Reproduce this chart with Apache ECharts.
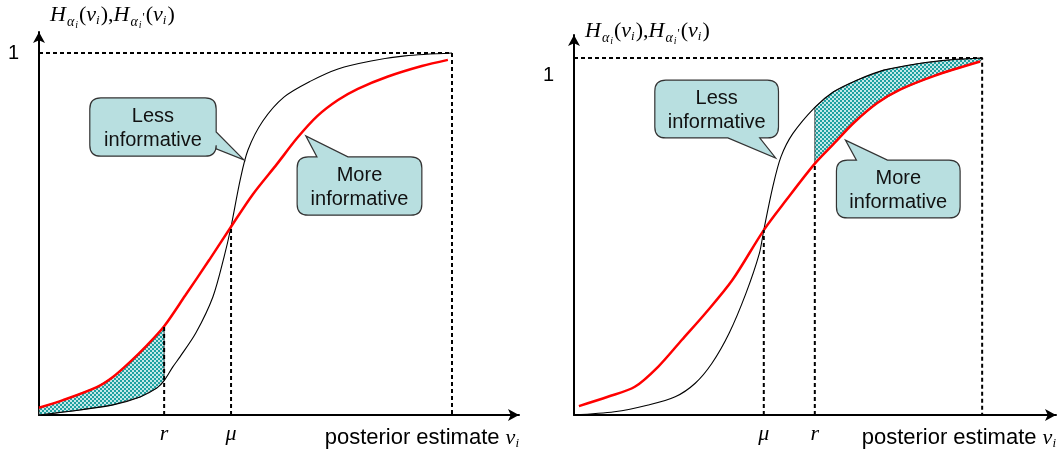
<!DOCTYPE html>
<html><head><meta charset="utf-8">
<script src="https://cdn.jsdelivr.net/npm/echarts@6/dist/echarts.min.js"></script>
<style>html,body{margin:0;padding:0;background:#fff}#c{width:1060px;height:451px}</style>
</head><body><div id="c"></div>
<script>
// ---- data (normalised posterior estimate / CDF value) ----
const leftBlackX = [0,0.099,0.179,0.245,0.286,0.303,0.324,0.341,0.380,0.421,0.448,0.465,0.487,0.506,0.542,0.593,0.659,0.724,0.804,0.886,1];
const leftBlackY = [0,0.014,0.028,0.050,0.075,0.095,0.133,0.160,0.227,0.326,0.436,0.520,0.649,0.732,0.812,0.878,0.923,0.956,0.978,0.992,1];
const leftRedX = [0,0.058,0.140,0.179,0.220,0.262,0.303,0.354,0.412,0.465,0.518,0.576,0.625,0.673,0.724,0.772,0.845,0.927,0.990];
const leftRedY = [0.020,0.041,0.077,0.105,0.146,0.193,0.245,0.330,0.428,0.520,0.610,0.693,0.765,0.825,0.870,0.901,0.935,0.964,0.981];
const rightBlackX = [0,0.099,0.182,0.248,0.297,0.338,0.380,0.421,0.454,0.465,0.487,0.507,0.536,0.590,0.635,0.693,0.759,0.842,0.924,1];
const rightBlackY = [0,0.009,0.028,0.051,0.089,0.145,0.229,0.340,0.452,0.518,0.639,0.723,0.788,0.862,0.905,0.938,0.966,0.984,0.995,1];
const rightRedX = [0.012,0.083,0.149,0.206,0.264,0.322,0.388,0.465,0.520,0.590,0.635,0.685,0.743,0.800,0.883,0.995];
const rightRedY = [0.025,0.051,0.079,0.135,0.210,0.285,0.378,0.518,0.602,0.704,0.758,0.818,0.874,0.912,0.950,0.990];
const leftR = 0.303, leftMu = 0.465;
const rightR = 0.590, rightMu = 0.465;
const topValue = 1, rightEnd = 1;
const tickNames = {r: 'r', mu: 'μ', one: '1'};
const calloutTexts = ['Less\ninformative', 'More\ninformative'];

// ---- layout (annotation placement, data units) ----
const calloutLayout = [
  {panel:0, text:0, box:[0.123,0.876,0.429,0.715], side:'right', base:[0.782,0.735], tip:[0.496,0.705]},
  {panel:0, text:1, box:[0.625,0.713,0.927,0.552], side:'top', base:[0.673,0.748], tip:[0.646,0.771]},
  {panel:1, text:0, box:[0.198,0.938,0.501,0.776], side:'bottom', base:[0.377,0.455], tip:[0.494,0.720]},
  {panel:1, text:1, box:[0.643,0.714,0.946,0.552], side:'top', base:[0.692,0.768], tip:[0.665,0.770]}
];

const zip = (xs, ys) => xs.map((x, i) => [x, ys[i]]);
const valAt = (xs, ys, x) => ys[xs.indexOf(x)];

const pc = document.createElement('canvas'); pc.width = 4; pc.height = 4;
const g = pc.getContext('2d');
g.fillStyle = '#c4e8e8'; g.fillRect(0,0,4,4);
g.fillStyle = '#1fa0a0'; g.fillRect(0,0,2,2); g.fillRect(2,2,2,2);
const hatchFill = {image: pc, repeat: 'repeat'};

const SANS = "'Liberation Sans', Arial, sans-serif";
const SERIF = "'Liberation Serif', 'Times New Roman', serif";

function curve(xi, xs, ys, color, width) {
  return {type:'line', xAxisIndex:xi, yAxisIndex:xi, data: zip(xs, ys), symbol:'none', smooth:0.3,
    silent:true, z:3, lineStyle:{color, width}};
}
function dashed(xi, pts) {
  return {type:'line', xAxisIndex:xi, yAxisIndex:xi, data: pts, symbol:'none', silent:true, z:4,
    lineStyle:{color:'#000', width:2, type:[4,3]}};
}
function hatch(xi, ux, uy, lx, ly, from, to) {
  return {type:'custom', xAxisIndex:xi, yAxisIndex:xi, data:[[0,0]], clip:false, silent:true, z:2,
    renderItem(params, api) {
      const pts = [];
      for (let i = 0; i < ux.length; i++) if (ux[i] >= from - 1e-9 && ux[i] <= to + 1e-9) pts.push(api.coord([ux[i], uy[i]]));
      for (let i = lx.length - 1; i >= 0; i--) if (lx[i] >= from - 1e-9 && lx[i] <= to + 1e-9) pts.push(api.coord([lx[i], ly[i]]));
      return {type:'polygon', shape:{points: pts}, style:{fill: hatchFill, stroke:'#2a2a2a', lineWidth:0.8}};
    }};
}
function callouts(xi) {
  const items = calloutLayout.filter(c => c.panel === xi);
  return {type:'custom', xAxisIndex:xi, yAxisIndex:xi, data: items.map((c, i) => [i, 0]), clip:false, silent:true, z:6,
    renderItem(params, api) {
      const c = items[params.dataIndex];
      const tl = api.coord([c.box[0], c.box[1]]), br = api.coord([c.box[2], c.box[3]]);
      const L = tl[0], T = tl[1], R = br[0], B = br[1], r = 11;
      const tip = api.coord(c.tip);
      let d = `M${L + r},${T}`;
      if (c.side === 'top') {
        const a = api.coord([c.base[0], 0])[0], b = api.coord([c.base[1], 0])[0];
        d += `L${a},${T}L${tip[0]},${tip[1]}L${b},${T}`;
      }
      d += `L${R - r},${T}Q${R},${T} ${R},${T + r}`;
      if (c.side === 'right') {
        const a = api.coord([0, c.base[0]])[1], b = api.coord([0, c.base[1]])[1];
        d += `L${R},${a}L${tip[0]},${tip[1]}L${R},${b}`;
      }
      d += `L${R},${B - r}Q${R},${B} ${R - r},${B}`;
      if (c.side === 'bottom') {
        const a = api.coord([c.base[0], 0])[0], b = api.coord([c.base[1], 0])[0];
        d += `L${b},${B}L${tip[0]},${tip[1]}L${a},${B}`;
      }
      d += `L${L + r},${B}Q${L},${B} ${L},${B - r}L${L},${T + r}Q${L},${T} ${L + r},${T}Z`;
      return {type:'group', children:[
        {type:'path', shape:{pathData: d}, style:{fill:'#b8dfe0', stroke:'#333', lineWidth:1.2}},
        {type:'text', x:(L + R) / 2, y:(T + B) / 2 + 1, style:{text: calloutTexts[c.text], align:'center', verticalAlign:'middle',
          textAlign:'center', textVerticalAlign:'middle', fontFamily:SANS, fontSize:20, lineHeight:24, fill:'#111'}}
      ]};
    }};
}

const richName = {
  H:{fontFamily:SERIF, fontStyle:'italic', fontSize:22, color:'#000', lineHeight:26},
  n:{fontFamily:SERIF, fontSize:22, color:'#000', lineHeight:26},
  v:{fontFamily:SERIF, fontStyle:'italic', fontSize:22, color:'#000', lineHeight:26},
  a:{fontFamily:SERIF, fontStyle:'italic', fontSize:14, color:'#000', lineHeight:14, padding:[14,1,0,1]},
  ii:{fontFamily:SERIF, fontStyle:'italic', fontSize:10, color:'#000', lineHeight:10, padding:[20,1,0,0]},
  s:{fontFamily:SERIF, fontStyle:'italic', fontSize:13, color:'#000', lineHeight:13, padding:[12,1,0,0]},
  pr:{fontFamily:SERIF, fontSize:12, color:'#000', lineHeight:12, padding:[6,1,0,0]},
  t:{fontFamily:SANS, fontSize:22, color:'#000', lineHeight:26}
};
const yName = '{H|H}{a|α}{ii|i}{n|(}{v|v}{s|i}{n|),}{H|H}{a|α}{ii|i}{pr|\'}{n|(}{v|v}{s|i}{n|)}';
const xName = '{t|posterior estimate }{v|v}{s|i}';

function xAxis(gi, max, r, mu) {
  const names = {}; names[r] = tickNames.r; names[mu] = tickNames.mu;
  return {type:'value', gridIndex:gi, min:0, max, splitLine:{show:false}, axisTick:{show:false},
    axisLine:{show:true, symbol:['none','arrow'], symbolSize:[9,11], lineStyle:{color:'#000', width:2}},
    axisLabel:{customValues:[r, mu], formatter: v => names[v] || '', margin:8, fontFamily:SERIF, fontStyle:'italic', fontSize:22, color:'#000'},
    name: xName, nameLocation:'end', nameGap:1,
    nameTextStyle:{align:'right', verticalAlign:'top', padding:[10,0,0,0], rich: richName}};
}
function yAxis(gi, max, labelPad, nameGap, align) {
  return {type:'value', gridIndex:gi, min:0, max, splitLine:{show:false}, axisTick:{show:false},
    axisLine:{show:true, symbol:['none','arrow'], symbolSize:[9,11], lineStyle:{color:'#000', width:2}},
    axisLabel:{customValues:[topValue], formatter: () => tickNames.one, margin:20, fontFamily:SANS, fontSize:20, color:'#000',
      verticalAlign: align, padding: labelPad},
    name: yName, nameLocation:'end', nameGap,
    nameTextStyle:{align:'left', verticalAlign:'middle', padding:[0,0,0,11], rich: richName}};
}

const chart = echarts.init(document.getElementById('c'), null, {renderer:'canvas'});
chart.setOption({
  animation:false,
  backgroundColor:'#fff',
  grid:[
    {left:39, top:32, width:480, height:383},
    {left:574, top:35, width:483, height:380}
  ],
  xAxis:[xAxis(0, 480/413, leftR, leftMu), xAxis(1, 483/409, rightR, rightMu)],
  yAxis:[yAxis(0, 383/362, [0,0,0,0], 17, 'middle'), yAxis(1, 380/357, [7,0,0,0], 4, 'top')],
  series:[
    hatch(0, leftRedX, leftRedY, leftBlackX, leftBlackY, 0, leftR),
    curve(0, leftBlackX, leftBlackY, '#000', 1.1),
    curve(0, leftRedX, leftRedY, '#ff0000', 2.5),
    dashed(0, [[0, topValue], [rightEnd, topValue], [rightEnd, 0]]),
    dashed(0, [[leftR, 0], [leftR, valAt(leftRedX, leftRedY, leftR)]]),
    dashed(0, [[leftMu, 0], [leftMu, valAt(leftRedX, leftRedY, leftMu)]]),
    callouts(0),
    hatch(1, rightBlackX, rightBlackY, rightRedX, rightRedY, rightR, 1),
    curve(1, rightBlackX, rightBlackY, '#000', 1.1),
    curve(1, rightRedX, rightRedY, '#ff0000', 2.5),
    dashed(1, [[0, topValue], [rightEnd, topValue], [rightEnd, 0]]),
    dashed(1, [[rightR, 0], [rightR, valAt(rightRedX, rightRedY, rightR)]]),
    dashed(1, [[rightMu, 0], [rightMu, valAt(rightRedX, rightRedY, rightMu)]]),
    callouts(1)
  ]
});
</script>
</body></html>
